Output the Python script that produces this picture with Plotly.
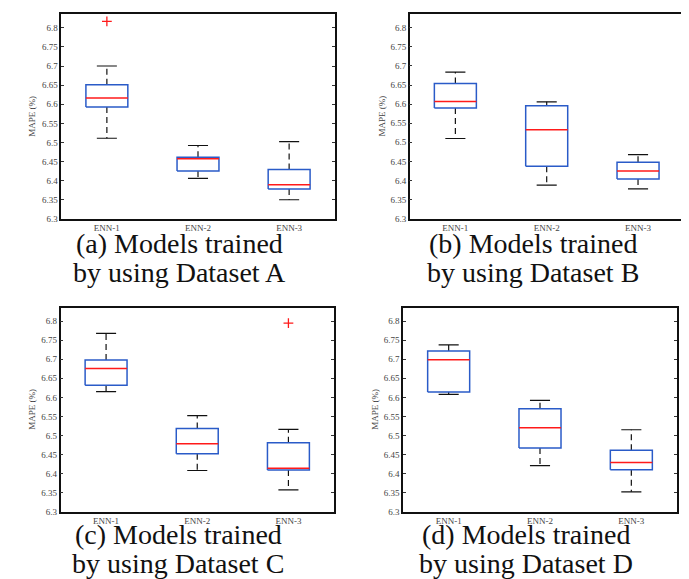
import plotly.graph_objects as go

W, H = 689, 579

categories = ["ENN-1", "ENN-2", "ENN-3"]
y_tick_labels = ["6.3", "6.35", "6.4", "6.45", "6.5", "6.55", "6.6", "6.65", "6.7", "6.75", "6.8"]

# Dataset A
a_low = [6.511, 6.406, 6.350]
a_q1 = [6.593, 6.425, 6.378]
a_med = [6.616, 6.457, 6.389]
a_q3 = [6.651, 6.461, 6.429]
a_up = [6.700, 6.492, 6.502]
a_out = [[6.817], [], []]

# Dataset B
b_low = [6.510, 6.388, 6.378]
b_q1 = [6.590, 6.437, 6.404]
b_med = [6.607, 6.533, 6.425]
b_q3 = [6.654, 6.596, 6.448]
b_up = [6.684, 6.606, 6.468]
b_out = [[], [], []]

# Dataset C
c_low = [6.615, 6.408, 6.357]
c_q1 = [6.632, 6.452, 6.409]
c_med = [6.676, 6.478, 6.414]
c_q3 = [6.698, 6.518, 6.481]
c_up = [6.768, 6.552, 6.516]
c_out = [[], [], [6.795]]

# Dataset D
d_low = [6.608, 6.421, 6.352]
d_q1 = [6.614, 6.467, 6.410]
d_med = [6.699, 6.520, 6.429]
d_q3 = [6.722, 6.570, 6.461]
d_up = [6.738, 6.592, 6.515]
d_out = [[], [], []]

captions = [
    ("(a) Models trained", "by using Dataset A"),
    ("(b) Models trained", "by using Dataset B"),
    ("(c) Models trained", "by using Dataset C"),
    ("(d) Models trained", "by using Dataset D"),
]

panels = [
    (a_low, a_q1, a_med, a_q3, a_up, a_out),
    (b_low, b_q1, b_med, b_q3, b_up, b_out),
    (c_low, c_q1, c_med, c_q3, c_up, c_out),
    (d_low, d_q1, d_med, d_q3, d_up, d_out),
]

# pixel frames: (left, right, top, bottom)
frames = [
    (53.3, 326.7, 6.5, 212.7),
    (401.7, 675.7, 6.5, 212.5),
    (52.5, 326.0, 302.5, 508.0),
    (395.0, 669.0, 302.5, 508.0),
]
ylabel_x = [24, 374, 24, 367]
caption_x = [171, 525, 170, 518]
caption_y = [(238, 267), (238, 267), (531, 560), (531, 560)]

BLUE = "#2a5bc8"
RED = "#ff1a1a"
BOX_HALF = 0.23
CAP_HALF = 0.11

fig = go.Figure()
layout = dict(
    width=W, height=H, margin=dict(l=0, r=0, t=0, b=0),
    paper_bgcolor="white", plot_bgcolor="white", showlegend=False,
)
annotations = []

tick_vals = [float(t) for t in y_tick_labels]
tick_font = dict(family="Liberation Serif", size=9, color="#444")

for k, (low, q1, med, q3, up, outs) in enumerate(panels):
    idx = "" if k == 0 else str(k + 1)
    xa, ya = "x" + idx, "y" + idx
    L, R, T, B = frames[k]
    layout["xaxis" + idx] = dict(
        domain=[L / W, R / W], range=[0.5, 3.5], anchor=ya,
        tickvals=[1, 2, 3], ticktext=categories, ticks="",
        showline=True, mirror=True, linecolor="#111", linewidth=1.5,
        showgrid=False, zeroline=False, tickfont=tick_font,
    )
    layout["yaxis" + idx] = dict(
        domain=[1 - B / H, 1 - T / H], range=[6.3, 6.835], anchor=xa,
        tickvals=tick_vals, ticktext=y_tick_labels, ticks="inside", ticklen=3,
        tickcolor="#333", showline=True, mirror="ticks", linecolor="#111",
        linewidth=1.5, showgrid=False, zeroline=False, tickfont=tick_font,
    )
    bx, by, mx, my, wx, wy, cx, cy, ox, oy = [], [], [], [], [], [], [], [], [], []
    for i in range(3):
        p = i + 1
        bx += [p - BOX_HALF, p + BOX_HALF, p + BOX_HALF, p - BOX_HALF, p - BOX_HALF, None]
        by += [q1[i], q1[i], q3[i], q3[i], q1[i], None]
        mx += [p - BOX_HALF, p + BOX_HALF, None]
        my += [med[i], med[i], None]
        wx += [p, p, None, p, p, None]
        wy += [q3[i], up[i], None, q1[i], low[i], None]
        cx += [p - CAP_HALF, p + CAP_HALF, None, p - CAP_HALF, p + CAP_HALF, None]
        cy += [up[i], up[i], None, low[i], low[i], None]
        for v in outs[i]:
            ox.append(p)
            oy.append(v)
    fig.add_trace(go.Scatter(x=wx, y=wy, mode="lines", xaxis=xa, yaxis=ya,
                             line=dict(color="#111", width=1.2, dash="6px,4px"), hoverinfo="skip"))
    fig.add_trace(go.Scatter(x=cx, y=cy, mode="lines", xaxis=xa, yaxis=ya,
                             line=dict(color="#111", width=1.2), hoverinfo="skip"))
    fig.add_trace(go.Scatter(x=bx, y=by, mode="lines", xaxis=xa, yaxis=ya,
                             line=dict(color=BLUE, width=1.5), hoverinfo="skip"))
    fig.add_trace(go.Scatter(x=mx, y=my, mode="lines", xaxis=xa, yaxis=ya,
                             line=dict(color=RED, width=1.5), hoverinfo="skip"))
    if ox:
        fig.add_trace(go.Scatter(x=ox, y=oy, mode="markers", xaxis=xa, yaxis=ya,
                                 marker=dict(symbol="cross-thin", size=7,
                                             line=dict(color=RED, width=1.3)),
                                 hoverinfo="skip"))
    annotations.append(dict(
        text="MAPE (%)", textangle=-90, xref="paper", yref="paper",
        x=ylabel_x[k] / W, y=1 - ((T + B) / 2) / H, showarrow=False,
        font=dict(family="Liberation Serif", size=9, color="#444"),
        xanchor="center", yanchor="middle",
    ))
    for line_text, yy in zip(captions[k], caption_y[k]):
        annotations.append(dict(
            text=line_text, xref="paper", yref="paper",
            x=caption_x[k] / W, y=1 - yy / H, showarrow=False,
            font=dict(family="Liberation Serif", size=28, color="#111"),
            xanchor="center", yanchor="middle",
        ))

layout["annotations"] = annotations
fig.update_layout(**layout)
fig.write_html("out.html")
